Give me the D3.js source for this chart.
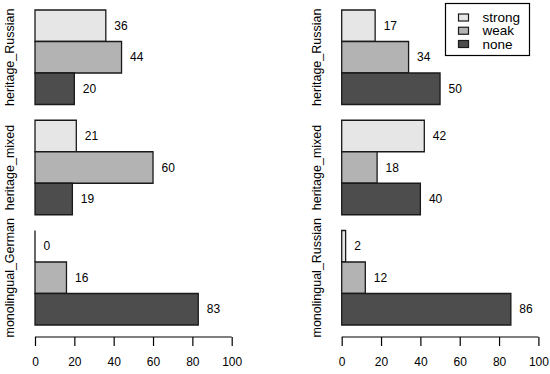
<!DOCTYPE html>
<html><head><meta charset="utf-8">
<script src="https://cdn.jsdelivr.net/npm/d3@7"></script>
<style>body{margin:0;background:#fff}svg{display:block}text{font-family:"Liberation Sans",Arial,sans-serif;fill:#000}</style>
</head><body><svg id="c" width="550" height="374"></svg>
<script>
const series = ["strong","weak","none"];
const colors = ["#e6e6e6","#b3b3b3","#4d4d4d"];
const leftGroups = ["heritage_Russian","heritage_mixed","monolingual_German"];
const leftValues = [[36,44,20],[21,60,19],[0,16,83]];
const rightGroups = ["heritage_Russian","heritage_mixed","monolingual_Russian"];
const rightValues = [[17,34,50],[42,18,40],[2,12,86]];
const ticks = [0,20,40,60,80,100];

const svg = d3.select("#c");

function panel(x0, labelX, groups, values) {
  const x = d3.scaleLinear().domain([0,100]).range([x0, x0+196.7]);
  const outer = d3.scaleBand().domain(groups).range([10, 325]).paddingInner(0.5/3.5).paddingOuter(0);
  const inner = d3.scaleBand().domain(series).range([0, outer.bandwidth()]);
  const g = svg.append("g");
  groups.forEach((grp, gi) => {
    const gg = g.append("g").attr("transform", `translate(0,${outer(grp)})`);
    series.forEach((s, si) => {
      const v = values[gi][si];
      const y0 = inner(s), h = inner.bandwidth(), xa = x(0), xb = x(v);
      gg.append("path")
        .attr("d", `M${xa},${y0}H${xb}V${y0+h}H${xa}Z`)
        .attr("fill", colors[si]).attr("stroke", "#1a1a1a").attr("stroke-width", 1.3);
      gg.append("text")
        .attr("x", xb+8.5).attr("y", y0+h/2)
        .attr("dy","0.35em").attr("font-size", 12).text(v);
    });
    g.append("text")
      .attr("transform", `translate(${labelX},${outer(grp)+outer.bandwidth()/2}) rotate(-90)`)
      .attr("text-anchor","middle").attr("dy","0.35em").attr("font-size", 12.5).text(grp);
  });
  const ax = d3.axisBottom(x).tickValues(ticks).tickSize(9).tickPadding(11).tickSizeOuter(0);
  const axg = svg.append("g").attr("transform","translate(0,337)").call(ax);
  axg.select(".domain").attr("stroke","#000").attr("stroke-width",1.2).attr("d", `M${x(0)},0H${x(100)}`);
  axg.selectAll(".tick line").attr("stroke","#000").attr("stroke-width",1.2);
  axg.selectAll(".tick text").attr("font-size",12).attr("font-family",'"Liberation Sans",Arial,sans-serif').attr("fill","#000");
}

panel(35, 10, leftGroups, leftValues);
panel(341.7, 316.7, rightGroups, rightValues);

// legend
const lg = svg.append("g");
lg.append("rect").attr("x",445.5).attr("y",3.5).attr("width",84).attr("height",52)
  .attr("fill","#fff").attr("stroke","#000").attr("stroke-width",1.2);
const ly = d3.scalePoint().domain(series).range([17.5, 44]);
series.forEach((s, i) => {
  lg.append("rect").attr("x",458.5).attr("y",ly(s)-3.5).attr("width",10).attr("height",7)
    .attr("fill",colors[i]).attr("stroke","#1a1a1a").attr("stroke-width",1.2);
  lg.append("text").attr("x",482.5).attr("y",ly(s)).attr("dy","0.35em").attr("font-size",13.5).text(s);
});
</script></body></html>
